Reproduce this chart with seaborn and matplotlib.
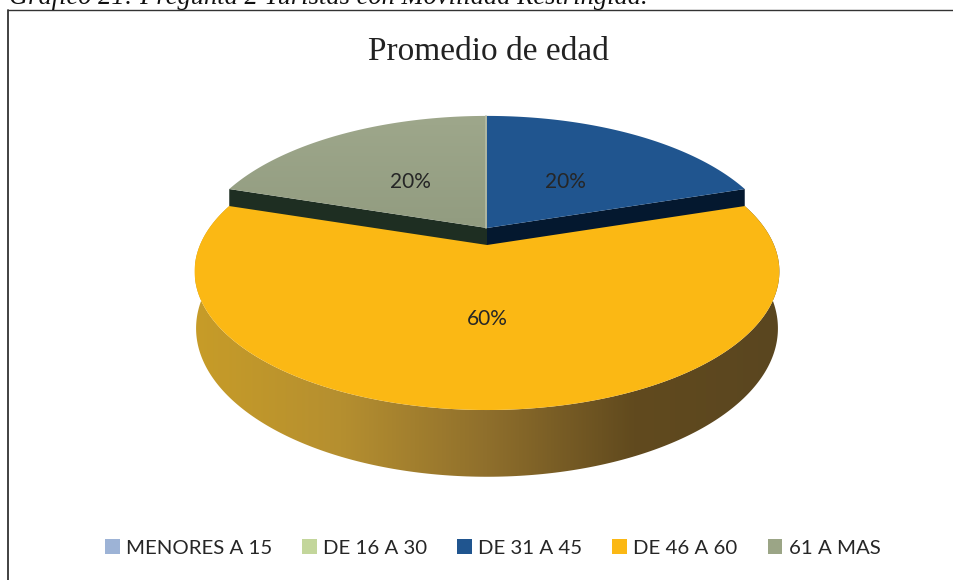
import numpy as np
import matplotlib
matplotlib.use("Agg")
import matplotlib.pyplot as plt
import seaborn as sns
from matplotlib.colors import LinearSegmentedColormap
from matplotlib.patches import Patch, Polygon

categories = ["MENORES A 15", "DE 16 A 30", "DE 31 A 45", "DE 46 A 60", "61 A MAS"]
values = [0, 0, 20, 60, 20]
title = "Promedio de edad"
caption = "Gráfico 21: Pregunta 2 Turistas con Movilidad Restringida."
colors = ["#9DB3D6", "#C3D69B", "#20558F", "#FBB814", "#9BA586"]

sns.set_theme(style="white")
plt.rcParams["font.family"] = ["Lato", "DejaVu Sans"]

fig = plt.figure(figsize=(9.54, 5.8), dpi=100)
ax = fig.add_axes([0, 0, 1, 1])

# the pie gives angles and label spots, then they get bent into perspective
wedges, _, pct = ax.pie(values, colors=colors, startangle=90, counterclock=False,
                        autopct=lambda p: f"{p:.0f}%" if p > 0 else "", pctdistance=0.5)
ax.set_aspect("auto")
ax.set_xlim(0, 954)
ax.set_ylim(580, 0)
ax.axis("off")

CX, RX, RY, K = 487, 287, 133.5, 0.191
CY_TOP, CY_FRONT = 228, 245


def project(u, v, cy, rx=RX, ry=RY):
    w = 1 + K * v
    return np.column_stack([CX + rx * u / w, cy - ry * v / w])


def rim(theta1, theta2, cy, rx=RX, ry=RY):
    t = np.radians(np.linspace(theta1, theta2, 300))
    return project(np.cos(t), np.sin(t), cy, rx, ry)


def gradient(poly, stops, horizontal=True, z=1):
    cmap = LinearSegmentedColormap.from_list("g", stops)
    x0, y0 = poly.min(axis=0)
    x1, y1 = poly.max(axis=0)
    grad = np.linspace(0, 1, 256)
    grad = grad[None, :] if horizontal else grad[:, None]
    im = ax.imshow(grad, cmap=cmap, extent=[x0, x1, y1, y0], aspect="auto", zorder=z)
    clip = Polygon(poly, closed=True, transform=ax.transData, fc="none", ec="none")
    ax.add_patch(clip)
    im.set_clip_path(clip)


blue, yellow, gray = wedges[2], wedges[3], wedges[4]
for w in wedges:
    w.set_visible(False)

# dark side walls of the two back slices
center = project(np.array([0.0]), np.array([0.0]), CY_TOP)
edge_b = rim(blue.theta1, blue.theta1, CY_TOP)[:1]
edge_g = rim(gray.theta2, gray.theta2, CY_TOP)[:1]
drop = np.array([0, 20])
ax.add_patch(Polygon(np.vstack([center, edge_b, edge_b + drop, center + drop]),
                     fc="#04182F", ec="none", zorder=2))
ax.add_patch(Polygon(np.vstack([center, edge_g, edge_g + drop, center + drop]),
                     fc="#1E2E22", ec="none", zorder=2))

# back slices
ax.add_patch(Polygon(np.vstack([center, rim(blue.theta1, blue.theta2, CY_TOP)]),
                     fc=colors[2], ec="none", zorder=3))
gray_poly = np.vstack([center, rim(gray.theta1, gray.theta2, CY_TOP)])
gradient(gray_poly, ["#9EA78B", "#929C80"], horizontal=False, z=3)
top_back = rim(blue.theta2, blue.theta2, CY_TOP)[:1]
ax.plot([center[0, 0] - 1, top_back[0, 0] - 1], [center[0, 1], top_back[0, 1]],
        color="#B4BBA6", lw=1.2, zorder=3.5)

# big slice: outer wall first, then the top
top_rim = rim(yellow.theta1, yellow.theta2, CY_FRONT)
low_rim = rim(yellow.theta1, yellow.theta2, 300, RX * 0.995, 143)
wall = np.vstack([top_rim, low_rim[::-1]])
gradient(wall, ["#C79C28", "#B58F30", "#8F6F2C", "#614A1E", "#5A4620"], z=4)
center_y = project(np.array([0.0]), np.array([0.0]), CY_FRONT)
ax.add_patch(Polygon(np.vstack([center_y, top_rim]), fc=colors[3], ec="none", zorder=5))

ax.set_xlim(0, 954)
ax.set_ylim(580, 0)

# percent labels moved with the same projection
for t, w in zip(pct, wedges):
    u, v = t.get_position()
    cy = CY_FRONT if w is yellow else CY_TOP + 4
    pos = project(np.array([u]), np.array([v]), cy)[0]
    t.set_position((pos[0] + (0 if w is not gray else 2), pos[1]))
    t.set_zorder(6)
    t.set_fontsize(15)
    t.set_color("#262626")

# only the top and left border are in the scan
ax.plot([8, 8], [580, 9.5], color="#333333", lw=1.3, zorder=7)
ax.plot([8, 954], [9.5, 9.5], color="#333333", lw=1, zorder=7)
ax.text(488, 52, title, family="Liberation Serif", fontsize=24, color="#222222",
        ha="center", va="center", zorder=7)
ax.text(9, 4, caption, family="Liberation Serif", style="italic", fontsize=19.1,
        color="#111111", ha="left", va="baseline", zorder=7)

handles = [Patch(fc=c, ec="none") for c in colors]
ax.legend(handles, categories, ncols=5, loc="center", bbox_to_anchor=(492.5 / 954, 1 - 548 / 580),
          frameon=False, fontsize=14.7, handlelength=0.73, handleheight=0.73, handletextpad=0.3,
          columnspacing=1.47, labelcolor="#262626")

fig.savefig("out.png", dpi=100)
